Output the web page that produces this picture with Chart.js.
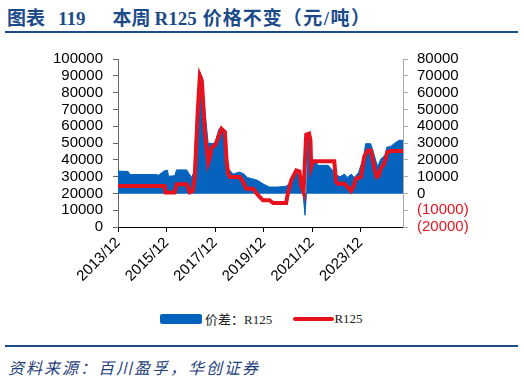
<!DOCTYPE html>
<html>
<head>
<meta charset="utf-8">
<script src="https://cdn.jsdelivr.net/npm/chart.js@4"></script>
<style>
  body { margin: 0; width: 524px; height: 380px; background: #fff; position: relative; overflow: hidden; font-family: "Liberation Sans", Arial, sans-serif; }
  .title { position: absolute; left: 7px; top: 3px; font: bold 19px "Liberation Serif", "Noto Sans CJK SC", serif; color: #1c4b8a; white-space: nowrap; }
  .rule { position: absolute; left: 5px; width: 513px; height: 2px; background: #1c4b8a; }
  #wrap { position: absolute; left: 0; top: 40px; }
  .legend { position: absolute; top: 309px; left: 160px; font: 13px "Liberation Serif", "Noto Sans CJK SC", serif; color: #222; white-space: nowrap; }
  .legend span { display: inline-block; vertical-align: middle; }
  .source { position: absolute; left: 8px; top: 355px; font: italic 16px "Noto Sans CJK SC", sans-serif; color: #1f3f7a; letter-spacing: 2px; white-space: nowrap; }
</style>
</head>
<body>
<div class="title">图表<span style="margin-left:13px">119</span><span style="margin-left:27px">本周</span><span style="margin-left:4px">R125</span><span style="margin-left:6px;letter-spacing:1px">价格不变</span><span style="letter-spacing:1.5px">（元/吨）</span></div>
<div class="rule" style="top:31px"></div>
<div id="wrap"><canvas id="chart" width="524" height="250"></canvas></div>
<div class="legend">
  <span style="width:42px;height:10px;background:#0563bd;border-radius:2px"></span><span style="margin-left:3px">价差：R125</span>
  <span style="width:41px;height:4px;background:#e5131e;border-radius:2px;margin-left:18px"></span><span>R125</span>
</div>
<div class="rule" style="top:345px"></div>
<div class="source">资料来源：百川盈孚，华创证券</div>
<script>
// x values are months counted from 2013/12
const tickLabels = ['2013/12', '2015/12', '2017/12', '2019/12', '2021/12', '2023/12'];

// 价差：R125 (right axis)
const spreadMonths = [0, 5, 6, 19, 20, 23, 24.5, 25, 28, 29, 34, 35, 36.5, 37.5, 38.5, 39.7, 40.5, 41.7, 43, 44.6,
  46, 48, 48.8, 50, 52.5, 53.5, 54.5, 57, 60, 62, 64, 69, 72, 75, 79, 83, 84.5, 86, 88, 90,
  91.5, 92.5, 93.3, 94, 95, 95.6, 97.2, 99, 104, 106, 108, 110, 112, 113.6, 115.3, 117, 119, 121.5, 122.5, 125,
  126, 127.5, 128.5, 130, 132, 133, 135, 137, 139, 141];
const spreadValues = [13300, 13000, 11200, 11300, 10800, 13500, 13800, 10200, 10500, 14000, 14000, 12000, 9500, 13000, 38000, 59600, 72300, 69000, 49500, 29800,
  29800, 29600, 33600, 38500, 38000, 22000, 14800, 11500, 12700, 11800, 9500, 7800, 5500, 3800, 3800, 4200, 5500, 8800, 12700, 10000,
  800, -13000, 1000, 35700, 33000, 14800, 19700, 16700, 16700, 14000, 10800, 10000, 11500, 9500, 11500, 9500, 12500, 21700, 29600, 29600,
  26000, 19700, 16000, 20500, 22500, 27500, 28000, 30000, 31600, 31600];

// R125 price (left axis)
const priceMonths = [0, 23, 23.5, 28, 29, 34, 35.5, 37, 38, 39.5, 40.5, 41.5, 43, 44.6, 45.5, 46.3, 48, 49.5, 51.2, 52.9,
  53.7, 54.5, 55.3, 60.2, 61.9, 63.5, 66.8, 69.3, 71.7, 75, 76.7, 83.2, 84, 85.7, 88.2, 89.8, 90.6, 91.8, 93.1, 94.5,
  95.2, 95.6, 96.5, 107, 107.9, 108.7, 112, 113.6, 115.3, 116.5, 117.7, 120.2, 121.8, 123.5, 125.1, 126.7, 128, 129, 130, 131.7,
  133.3, 135, 141];
const priceValues = [24400, 24400, 20500, 20500, 25400, 25400, 20700, 21500, 30000, 70000, 90000, 87000, 55700, 38300, 42000, 47500, 48600, 53000, 58500, 56500,
  39700, 31800, 29800, 29800, 26800, 22800, 22800, 18900, 15900, 15900, 14300, 14300, 19900, 27800, 33700, 33000, 24800, 20700, 55000, 55600,
  52000, 35700, 39100, 39100, 26800, 25800, 25800, 23800, 21400, 24000, 28800, 29800, 41700, 45600, 45600, 35700, 29800, 30500, 34800, 37700,
  44600, 45200, 45200];

const BLUE = '#0563bd';
const RED = '#e5131e';
const tickFont = { family: '"Liberation Sans", Arial, sans-serif', size: 15 };

new Chart(document.getElementById('chart'), {
  type: 'line',
  data: {
    datasets: [
      {
        label: 'R125',
        data: priceMonths.map((m, i) => ({ x: m, y: priceValues[i] })),
        yAxisID: 'y',
        borderColor: RED,
        borderWidth: 4,
        pointRadius: 0,
        fill: false,
        order: 0
      },
      {
        label: '价差：R125',
        data: spreadMonths.map((m, i) => ({ x: m, y: spreadValues[i] })),
        yAxisID: 'y1',
        borderColor: BLUE,
        borderWidth: 1,
        backgroundColor: BLUE,
        pointRadius: 0,
        fill: 'origin',
        order: 1
      }
    ]
  },
  options: {
    responsive: false,
    devicePixelRatio: 1,
    animation: false,
    layout: { padding: { top: 18, left: 0, right: 0, bottom: 0 } },
    plugins: { legend: { display: false }, tooltip: { enabled: false } },
    scales: {
      x: {
        type: 'linear',
        min: 0,
        max: 141,
        grid: { drawOnChartArea: false, tickLength: 5, color: '#000' },
        border: { color: '#000' },
        ticks: {
          stepSize: 24,
          includeBounds: false,
          autoSkip: false,
          minRotation: 45,
          maxRotation: 45,
          padding: 2,
          color: '#000',
          font: tickFont,
          callback: v => tickLabels[v / 24] ?? ''
        },
        afterFit: s => { s.height = 63; }
      },
      y: {
        position: 'left',
        min: 0,
        max: 100000,
        grid: { drawOnChartArea: false, tickLength: 5, color: '#666' },
        border: { color: '#666' },
        ticks: { stepSize: 10000, autoSkip: false, padding: 10, color: '#000', font: tickFont, callback: v => String(v) },
        afterFit: s => { s.width = 118; }
      },
      y1: {
        position: 'right',
        min: -20000,
        max: 80000,
        grid: {
          drawOnChartArea: true,
          tickLength: 5,
          color: ctx => ctx.tick && ctx.tick.value === 0 ? '#7cb0e3' : 'rgba(0,0,0,0)',
          tickColor: '#aaa'
        },
        border: { color: '#aaa' },
        ticks: {
          stepSize: 10000,
          autoSkip: false,
          padding: 9,
          font: tickFont,
          color: ctx => ctx.tick.value < 0 ? RED : '#000',
          callback: v => v < 0 ? '(' + (-v) + ')' : String(v)
        },
        afterFit: s => { s.width = 121; }
      }
    }
  }
});
</script>
</body>
</html>
